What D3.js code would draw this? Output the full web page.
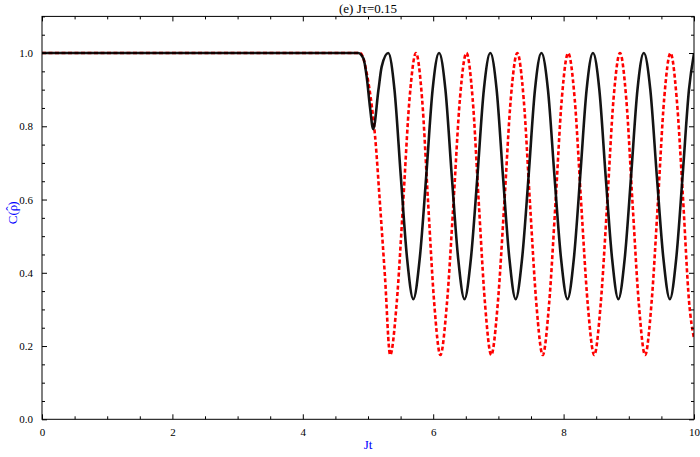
<!DOCTYPE html>
<html><head><meta charset="utf-8">
<script src="https://cdn.jsdelivr.net/npm/d3@7"></script>
<style>
html,body{margin:0;padding:0;background:#fff;}
svg{display:block;}
text{font-family:"Liberation Serif","Times New Roman",serif;}
</style></head>
<body>
<svg id="chart" width="700" height="457"></svg>
<script>
const title = "(e) J\u03C4=0.15";
const xLabel = "Jt";
const yLabelParts = ["C(", "\u03C1", "\u02C6", ")"];
const xMajorTicks = [0, 2, 4, 6, 8, 10];
const yMajorTicks = [0.0, 0.2, 0.4, 0.6, 0.8, 1.0];

// black solid curve
const blackX = [0, 4.6, 4.85, 4.93, 4.98, 5.03, 5.08, 5.16, 5.21, 5.31,
  5.406, 5.503, 5.599, 5.695,
  5.794, 5.893, 5.991, 6.09,
  6.1875, 6.285, 6.3825, 6.48,
  6.579, 6.678, 6.777, 6.876,
  6.973, 7.07, 7.168, 7.265,
  7.364, 7.463, 7.561, 7.66,
  7.76, 7.86, 7.96, 8.06,
  8.158, 8.255, 8.353, 8.45,
  8.548, 8.645, 8.743, 8.84,
  8.938, 9.035, 9.133, 9.23,
  9.33, 9.43, 9.53, 9.63,
  9.728, 9.825, 9.923, 10.0];
const blackY = [1.0, 1.0, 1.0, 0.985, 0.935, 0.853, 0.792, 0.899, 0.963, 1.0,
  0.90, 0.664, 0.44, 0.328,
  0.44, 0.664, 0.90, 1.0,
  0.90, 0.664, 0.44, 0.328,
  0.44, 0.664, 0.90, 1.0,
  0.90, 0.664, 0.44, 0.328,
  0.44, 0.664, 0.90, 1.0,
  0.90, 0.664, 0.44, 0.328,
  0.44, 0.664, 0.90, 1.0,
  0.90, 0.664, 0.44, 0.328,
  0.44, 0.664, 0.90, 1.0,
  0.90, 0.664, 0.44, 0.328,
  0.44, 0.664, 0.90, 0.999];

// red dashed curve
const redX = [0, 4.6, 4.88, 4.93, 4.98, 5.06, 5.11, 5.18, 5.26, 5.34,
  5.439, 5.538, 5.637, 5.736,
  5.8295, 5.923, 6.0165, 6.11,
  6.21, 6.31, 6.41, 6.51,
  6.605, 6.70, 6.795, 6.89,
  6.99, 7.09, 7.19, 7.29,
  7.3875, 7.485, 7.5825, 7.68,
  7.7775, 7.875, 7.9725, 8.07,
  8.17, 8.27, 8.37, 8.47,
  8.569, 8.668, 8.766, 8.865,
  8.961, 9.058, 9.154, 9.25,
  9.3475, 9.445, 9.5425, 9.64,
  9.735, 9.83, 9.925, 10.0];
const redY = [1.0, 1.0, 1.0, 0.985, 0.945, 0.853, 0.77, 0.598, 0.39, 0.1755,
  0.315, 0.588, 0.875, 1.0,
  0.875, 0.588, 0.315, 0.1755,
  0.315, 0.588, 0.875, 1.0,
  0.875, 0.588, 0.315, 0.1755,
  0.315, 0.588, 0.875, 1.0,
  0.875, 0.588, 0.315, 0.1755,
  0.315, 0.588, 0.875, 1.0,
  0.875, 0.588, 0.315, 0.1755,
  0.315, 0.588, 0.875, 1.0,
  0.875, 0.588, 0.315, 0.1755,
  0.315, 0.588, 0.875, 1.0,
  0.875, 0.608, 0.32, 0.221];

const L = 42, R = 694, T = 16.4, B = 419.3;
const svg = d3.select("#chart");
const x = d3.scaleLinear().domain([0, 10]).range([L, R]);
const y = d3.scaleLinear().domain([0, 1.1]).range([B, T]);

const xMinor = d3.range(0, 10.001, 0.5).filter(v => Math.abs(v / 2 - Math.round(v / 2)) > 1e-6);
const yMinor = d3.range(0, 1.1001, 0.05).map(v => +v.toFixed(2)).filter(v => Math.abs(v / 0.2 - Math.round(v / 0.2)) > 1e-6);

svg.append("defs").append("clipPath").attr("id", "clip")
  .append("rect").attr("x", L).attr("y", T).attr("width", R - L).attr("height", B - T);

const line = d3.line().x(d => x(d[0])).y(d => y(d[1])).curve(d3.curveMonotoneX);
const plot = svg.append("g").attr("clip-path", "url(#clip)");
plot.append("path").datum(redX.map((v, i) => [v, redY[i]]))
  .attr("d", line).attr("fill", "none").attr("stroke", "#ff0000")
  .attr("stroke-width", 2.6).attr("stroke-dasharray", "4,2.5");
plot.append("path").datum(blackX.map((v, i) => [v, blackY[i]]))
  .attr("d", line).attr("fill", "none").attr("stroke", "#000")
  .attr("stroke-opacity", 0.92).attr("stroke-width", 2.6);

function styleAxis(g) {
  g.select(".domain").remove();
  g.selectAll(".tick line").attr("stroke", "#000").attr("stroke-width", 1);
  g.selectAll(".tick text").attr("font-size", "11px").attr("fill", "#000")
    .attr("font-family", "'Liberation Serif',serif");
}
// bottom
svg.append("g").attr("transform", `translate(0,${B})`)
  .call(d3.axisBottom(x).tickValues(xMajorTicks).tickSize(-5).tickPadding(9).tickFormat(d3.format("d")))
  .call(styleAxis);
svg.append("g").attr("transform", `translate(0,${B})`)
  .call(d3.axisBottom(x).tickValues(xMinor).tickSize(-3).tickFormat(""))
  .call(styleAxis);
// top
svg.append("g").attr("transform", `translate(0,${T})`)
  .call(d3.axisTop(x).tickValues(xMajorTicks).tickSize(-5).tickFormat(""))
  .call(styleAxis);
svg.append("g").attr("transform", `translate(0,${T})`)
  .call(d3.axisTop(x).tickValues(xMinor).tickSize(-3).tickFormat(""))
  .call(styleAxis);
// left
svg.append("g").attr("transform", `translate(${L},0)`)
  .call(d3.axisLeft(y).tickValues(yMajorTicks).tickSize(-5).tickPadding(9).tickFormat(d3.format(".1f")))
  .call(styleAxis);
svg.append("g").attr("transform", `translate(${L},0)`)
  .call(d3.axisLeft(y).tickValues(yMinor).tickSize(-3).tickFormat(""))
  .call(styleAxis);
// right
svg.append("g").attr("transform", `translate(${R},0)`)
  .call(d3.axisRight(y).tickValues(yMajorTicks).tickSize(-5).tickFormat(""))
  .call(styleAxis);
svg.append("g").attr("transform", `translate(${R},0)`)
  .call(d3.axisRight(y).tickValues(yMinor).tickSize(-3).tickFormat(""))
  .call(styleAxis);

// frame
svg.append("rect").attr("x", L).attr("y", T).attr("width", R - L).attr("height", B - T)
  .attr("fill", "none").attr("stroke", "#000").attr("stroke-width", 1);

svg.append("text").attr("x", (L + R) / 2).attr("y", 13).attr("text-anchor", "middle")
  .attr("font-size", "13px").attr("fill", "#000").text(title);
svg.append("text").attr("x", (L + R) / 2).attr("y", 449).attr("text-anchor", "middle")
  .attr("font-size", "13px").attr("fill", "#0000ff").text(xLabel);

// y label: C(ρ̂) rotated, hat placed above rho
const yl = svg.append("text").attr("transform", `translate(17,${(T + B) / 2 - 5}) rotate(-90)`)
  .attr("text-anchor", "middle").attr("font-size", "13px").attr("fill", "#0000ff");
yl.append("tspan").text(yLabelParts[0] + yLabelParts[1]);
yl.append("tspan").attr("dx", -6).attr("dy", -2).text(yLabelParts[2]);
yl.append("tspan").attr("dx", 0.5).attr("dy", 2).text(yLabelParts[3]);
</script>
</body></html>
